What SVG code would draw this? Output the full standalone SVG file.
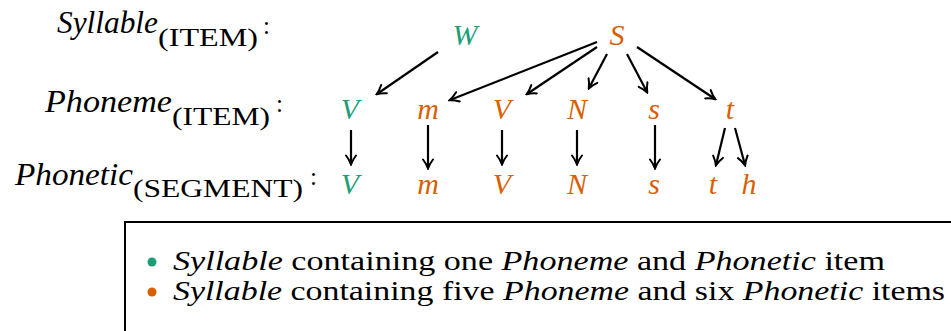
<svg xmlns="http://www.w3.org/2000/svg" width="951" height="331" viewBox="0 0 951 331" font-family="'Liberation Serif', serif">
<style>
text{font-family:'Liberation Serif',serif}
.lbl{font-style:italic;font-size:31px;fill:#000}
.sub{font-size:25px;fill:#000}
.n{font-style:italic;font-size:30px;text-anchor:middle}
.g{fill:#1b9e77}
.o{fill:#d95f02}
.leg{font-size:27px;fill:#000}
.it{font-style:italic}
.e{stroke:#000;stroke-width:2.2;fill:none;marker-end:url(#ah)}
</style>
<defs>
<marker id="ah" viewBox="0 0 12 12" refX="10" refY="6" markerWidth="12" markerHeight="12" markerUnits="userSpaceOnUse" orient="auto">
<path d="M1.5,1 Q6,4.5 10.5,6 Q6,7.5 1.5,11" fill="none" stroke="#000" stroke-width="2" stroke-linecap="round"/>
</marker>
</defs>
<rect width="951" height="331" fill="#fff"/>
<g id="labels">
<text class="lbl" x="57" y="33" textLength="101" lengthAdjust="spacingAndGlyphs">Syllable</text>
<text class="sub" x="158" y="46" textLength="100" lengthAdjust="spacingAndGlyphs">(ITEM)</text>
<text class="sub" x="263" y="34">:</text>
<text class="lbl" x="45" y="112" textLength="127" lengthAdjust="spacingAndGlyphs">Phoneme</text>
<text class="sub" x="172" y="125" textLength="98" lengthAdjust="spacingAndGlyphs">(ITEM)</text>
<text class="sub" x="276" y="112">:</text>
<text class="lbl" x="15" y="185" textLength="118" lengthAdjust="spacingAndGlyphs">Phonetic</text>
<text class="sub" x="133" y="197" textLength="170" lengthAdjust="spacingAndGlyphs">(SEGMENT)</text>
<text class="sub" x="310" y="185">:</text>
</g>
<g id="node-W"><text class="n g" x="465" y="45">W</text></g>
<g id="node-S"><text class="n o" x="617" y="45">S</text></g>
<g id="node-p1"><text class="n g" x="350" y="119">V</text></g>
<g id="node-p2"><text class="n o" x="428" y="119">m</text></g>
<g id="node-p3"><text class="n o" x="502" y="119">V</text></g>
<g id="node-p4"><text class="n o" x="577" y="119">N</text></g>
<g id="node-p5"><text class="n o" x="654" y="119">s</text></g>
<g id="node-p6"><text class="n o" x="730" y="119">t</text></g>
<g id="node-f1"><text class="n g" x="350" y="194">V</text></g>
<g id="node-f2"><text class="n o" x="428" y="194">m</text></g>
<g id="node-f3"><text class="n o" x="502" y="194">V</text></g>
<g id="node-f4"><text class="n o" x="577" y="194">N</text></g>
<g id="node-f5"><text class="n o" x="654" y="194">s</text></g>
<g id="node-f6"><text class="n o" x="713" y="194">t</text></g>
<g id="node-f7"><text class="n o" x="749" y="194">h</text></g>
<g id="connectors">
<line class="e" x1="438" y1="52" x2="377" y2="94"/>
<line class="e" x1="597" y1="42" x2="450" y2="100"/>
<line class="e" x1="597" y1="47" x2="527" y2="94"/>
<line class="e" x1="607" y1="54" x2="589" y2="88"/>
<line class="e" x1="627" y1="54" x2="647" y2="92"/>
<line class="e" x1="637" y1="47" x2="715" y2="99"/>
<line class="e" x1="351" y1="130" x2="351" y2="164"/>
<line class="e" x1="428" y1="125" x2="428" y2="168"/>
<line class="e" x1="502" y1="130" x2="502" y2="164"/>
<line class="e" x1="577" y1="130" x2="577" y2="164"/>
<line class="e" x1="655" y1="125" x2="655" y2="168"/>
<line class="e" x1="725" y1="128" x2="716" y2="165"/>
<line class="e" x1="735" y1="128" x2="745" y2="165"/>
</g>
<g id="legend">
<rect x="125" y="222" width="840" height="130" fill="none" stroke="#000" stroke-width="2"/>
<circle cx="152" cy="262" r="4.5" fill="#1b9e77"/>
<circle cx="152" cy="292" r="4.5" fill="#d95f02"/>
<text class="leg" x="173" y="270" textLength="712" lengthAdjust="spacingAndGlyphs"><tspan class="it">Syllable</tspan> containing one <tspan class="it">Phoneme</tspan> and <tspan class="it">Phonetic</tspan> item</text>
<text class="leg" x="173" y="300" textLength="772" lengthAdjust="spacingAndGlyphs"><tspan class="it">Syllable</tspan> containing five <tspan class="it">Phoneme</tspan> and six <tspan class="it">Phonetic</tspan> items</text>
</g>
</svg>
